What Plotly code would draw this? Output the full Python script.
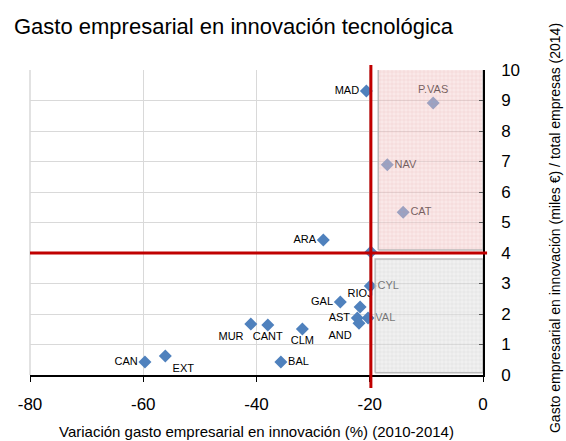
import plotly.graph_objects as go

# ---- data ----
regions = ["MAD", "P.VAS", "NAV", "CAT", "ARA", "", "CYL", "GAL", "RIOJ", "AST",
           "VAL", "AND", "MUR", "CANT", "CLM", "BAL", "CAN", "EXT"]
variacion = [-20.6, -8.8, -16.9, -14.1, -28.2, -19.8, -19.9, -25.2, -21.7, -22.2,
             -20.3, -21.9, -41.0, -38.0, -31.9, -35.7, -59.7, -56.1]
gasto = [9.31, 8.92, 6.89, 5.34, 4.43, 4.03, 2.92, 2.39, 2.23, 1.87,
         1.87, 1.70, 1.67, 1.64, 1.51, 0.43, 0.43, 0.62]
label_pos = ["middle left", "top center", "middle right", "middle right", "middle left", "middle left",
             "middle right", "middle left", "top center", "middle left",
             "middle right", "bottom left", "bottom left", "bottom center", "bottom center",
             "middle right", "middle left", "bottom right"]

# Spain reference (crossing lines)
esp_x = -19.8
esp_y = 4.0

x_ticks = [-80, -60, -40, -20, 0]
x_tick_labels = ["-80", "-60", "-40", "-20", "0"]
y_ticks = list(range(0, 11))
x_range = [-80, 0]
y_range = [0, 10]

# highlighted quadrants (data units)
pink_x = [-18.5, 0]
pink_y = [4.1, 10.2]
grey_x = [-19.05, 0]
grey_y = [0.07, 3.8]

fig = go.Figure()

fig.add_trace(go.Scatter(
    x=variacion, y=gasto, mode="markers+text", text=regions,
    textposition=label_pos,
    textfont=dict(family="Liberation Sans, Arial", size=11, color="#000000"),
    marker=dict(symbol="diamond", size=10, color="#4F81BD"),
    cliponaxis=False, showlegend=False, hoverinfo="skip"))

def rect(xs, ys, fill, fg, border):
    return go.Scatter(
        x=[xs[0], xs[1], xs[1], xs[0], xs[0]],
        y=[ys[0], ys[0], ys[1], ys[1], ys[0]],
        mode="lines", fill="toself", fillcolor=fill,
        fillpattern=dict(shape="+", size=4, solidity=0.2, fgcolor=fg, fillmode="overlay"),
        line=dict(color=border, width=1.5), showlegend=False, hoverinfo="skip")

fig.add_trace(rect(pink_x, pink_y, "rgba(245,205,205,0.45)", "rgba(225,120,120,0.5)", "rgba(180,180,180,0.9)"))
fig.add_trace(rect(grey_x, grey_y, "rgba(225,225,225,0.5)", "rgba(150,150,150,0.45)", "rgba(180,180,180,0.9)"))

# left border gridline at -80
fig.add_shape(type="line", xref="paper", yref="paper", x0=0, x1=0, y0=0, y1=1,
              line=dict(color="#D9D9D9", width=1.5), layer="below")

# red reference lines (in paper coords derived from data)
px = (esp_x - x_range[0]) / (x_range[1] - x_range[0])
py = (esp_y - y_range[0]) / (y_range[1] - y_range[0])
fig.add_shape(type="line", xref="paper", yref="paper", x0=0, x1=1.009, y0=py, y1=py,
              line=dict(color="#C00000", width=3), layer="above")
fig.add_shape(type="line", xref="paper", yref="paper", x0=px, x1=px, y0=-0.043, y1=1.016,
              line=dict(color="#C00000", width=3), layer="above")

fig.update_layout(
    width=566, height=441,
    margin=dict(l=30, r=83, t=70, b=66),
    paper_bgcolor="white", plot_bgcolor="white",
    font=dict(family="Liberation Sans, Arial", color="#000000"),
    xaxis=dict(range=x_range, tickvals=x_ticks, ticktext=x_tick_labels, showgrid=True,
               gridcolor="#D9D9D9", gridwidth=1,
               zeroline=False, showline=True, linecolor="#000000", linewidth=1.5,
               ticks="outside", ticklen=5, tickcolor="#000000",
               tickfont=dict(size=17), ticklabelstandoff=8),
    yaxis=dict(range=y_range, tickvals=y_ticks, side="right", showgrid=True, gridcolor="#D9D9D9",
               gridwidth=1, zeroline=False, showline=True, linecolor="#000000", linewidth=1.5,
               ticks="inside", ticklen=4, tickcolor="#555555",
               tickfont=dict(size=17), ticklabelstandoff=13),
    annotations=[
        dict(text="Gasto empresarial en innovación tecnológica", xref="paper", yref="paper",
             x=-0.04, y=1.144, xanchor="left", yanchor="middle", showarrow=False,
             font=dict(family="Liberation Sans, Arial", size=22)),
        dict(text="Variación gasto empresarial en innovación (%) (2010-2014)", xref="paper", yref="paper",
             x=0.501, y=-0.184, xanchor="center", yanchor="middle", showarrow=False,
             font=dict(family="Liberation Sans, Arial", size=15)),
        dict(text="Gasto empresarial en innovación (miles €) / total empresas (2014)", xref="paper",
             yref="paper", x=1.159, y=0.482, xanchor="center", yanchor="middle", showarrow=False,
             textangle=-90,
             font=dict(family="Liberation Sans, Arial", size=14)),
    ],
)

fig.write_html("out.html", config={"displayModeBar": False},
               post_script="document.body.style.margin='0';")
